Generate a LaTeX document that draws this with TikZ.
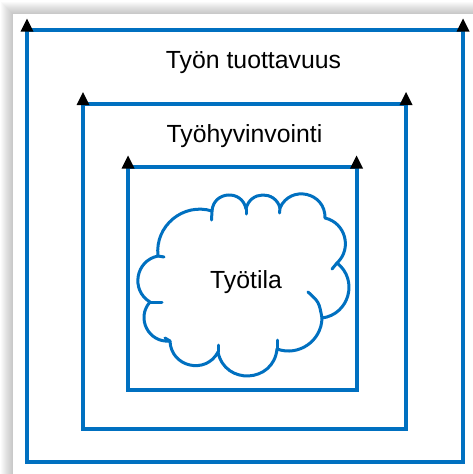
\documentclass[tikz,border=0pt]{standalone}
\usepackage{fontspec}
\setmainfont{Liberation Sans}
\usetikzlibrary{calc}
\definecolor{frameblue}{HTML}{0070C0}
\begin{document}
\begin{tikzpicture}[x=1pt,y=-1pt,
  box/.style={draw=frameblue, line width=4pt},
  tiptri/.style={fill=black},
  cloudline/.style={draw=frameblue, line width=3pt, line join=round, line cap=round},
  lbl/.style={font=\fontsize{24.8}{28}\selectfont, anchor=base, inner sep=0pt}]

\useasboundingbox (0,0) rectangle (473,474);

% soft drop shadow of the white panel
\foreach \i in {1,...,12}
  \fill[black, opacity=0.02] (13-\i,14-\i) rectangle (473,474);
\fill[white] (13,14) rectangle (473,474);

% corners of the three frames
\coordinate (o-tl) at (27,30);   \coordinate (o-tr) at (463,30);   \coordinate (o-br) at (463,462);
\coordinate (m-tl) at (83,103.5); \coordinate (m-tr) at (406,103.5); \coordinate (m-br) at (406,429);
\coordinate (i-tl) at (128,167); \coordinate (i-tr) at (356.5,167); \coordinate (i-br) at (356.5,390);

\draw[box] (o-tl) rectangle (o-br);
\draw[box] (m-tl) rectangle (m-br);
\draw[box] (i-tl) rectangle (i-br);

% upward arrowheads on the top corners
\foreach \c in {o-tl,o-tr,m-tl,m-tr,i-tl,i-tr}
  \fill[tiptri] ($(\c)+(-6.5,1.5)$) -- ++(13,0) -- ++(-6.5,-13) -- cycle;

% labels
\node[lbl] (prod) at (253.5,68) {Työn tuottavuus};
\node[lbl] (well) at (244.5,142) {Työhyvinvointi};

% cloud: junction points between the puffs
\coordinate (A) at (212,211);
\coordinate (B) at (246,209);
\coordinate (C) at (280,208);
\coordinate (D) at (325,218);
\coordinate (E) at (337,263);
\coordinate (F) at (322,318);
\coordinate (G) at (277,349);
\coordinate (H) at (218,352);
\coordinate (I) at (170,341);
\coordinate (J) at (150,302);
\coordinate (K) at (158,256);

% each puff is a circular arc, written as one cubic (tangent angle, handle length)
\draw[cloudline]
  (A) .. controls ($(A)!20.2pt!82.8:(B)$) and ($(B)!20.2pt!-82.8:(A)$) .. (B)
      .. controls ($(B)!18.5pt!76.9:(C)$) and ($(C)!18.5pt!-76.9:(B)$) .. (C)
      .. controls ($(C)!25.8pt!79:(D)$)   and ($(D)!25.8pt!-79:(C)$)   .. (D)
      .. controls ($(D)!21.1pt!62:(E)$)   and ($(E)!21.1pt!-62:(D)$)   .. (E)
      .. controls ($(E)!27.5pt!67.4:(F)$) and ($(F)!27.5pt!-67.4:(E)$) .. (F)
      .. controls ($(F)!23pt!54.4:(G)$)   and ($(G)!23pt!-54.4:(F)$)   .. (G)
      .. controls ($(G)!34.3pt!81.6:(H)$) and ($(H)!34.3pt!-81.6:(G)$) .. (H)
      .. controls ($(H)!26.1pt!75.4:(I)$) and ($(I)!26.1pt!-75.4:(H)$) .. (I)
      .. controls ($(I)!21.5pt!68.8:(J)$) and ($(J)!21.5pt!-68.8:(I)$) .. (J)
      .. controls ($(J)!22.9pt!68.8:(K)$) and ($(K)!22.9pt!-68.8:(J)$) .. (K)
      .. controls ($(K)!30.2pt!56.8:(A)$) and ($(A)!30.2pt!-56.8:(K)$) .. (A)
      -- cycle;

% short inner strokes at the junctions
\draw[cloudline] (A) -- ++(-0.5,9);
\draw[cloudline] (B) -- ++(0,5);
\draw[cloudline] (C) -- ++(-0.5,5);
\draw[cloudline] (E) -- ++(-5,6);
\draw[cloudline] (F) .. controls (319,302) .. (308,292);
\draw[cloudline] (G) -- ++(0,-9);
\draw[cloudline] (H) -- ++(0,-7);
\draw[cloudline] (I) -- ++(-5,-3);
\draw[cloudline] (J) -- ++(12,0);
\draw[cloudline] (K) -- ++(6,1);

\node[lbl] (space) at (246,288) {Työtila};
\end{tikzpicture}
\end{document}
